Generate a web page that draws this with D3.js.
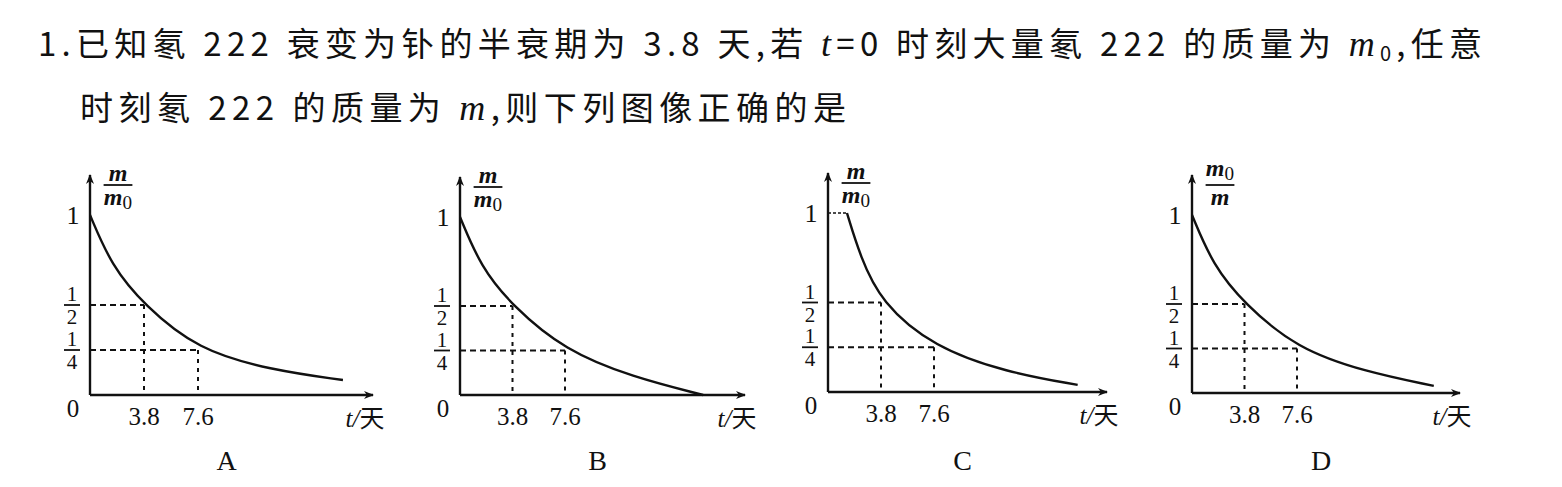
<!DOCTYPE html>
<html><head><meta charset="utf-8">
<script src="https://cdn.jsdelivr.net/npm/d3@7.9.0/dist/d3.min.js"></script>
<style>
body{margin:0;background:#fff;}
svg text{font-family:"Liberation Serif","DejaVu Serif",serif;fill:#111;}
.cjk{font-family:"Noto Sans CJK SC",sans-serif;}
</style></head>
<body><svg id="c" width="1562" height="487"></svg>
<script>
const question = ['1.已知氡 222 衰变为钋的半衰期为 3.8 天,若 ', 't', '=0 时刻大量氡 222 的质量为 ', 'm', '0', ',任意'];
const question2 = '时刻氡 222 的质量为 ';
const question2b = ',则下列图像正确的是';

const panelNames = ['A', 'B', 'C', 'D'];
const yLabels = [['m', 'm0'], ['m', 'm0'], ['m', 'm0'], ['m0', 'm']];
const xTicks = [3.8, 7.6];
const yTicks = [1, 0.5, 0.25];
// curve points: [t (days), value]
const curveA = [[0, 1], [1.5, 0.72], [3.8, 0.5], [7.6, 0.25], [12.7, 0.14], [17.8, 0.083]];
const curveB = [[0, 1], [1.5, 0.72], [3.8, 0.5], [7.6, 0.25], [12.5, 0.1], [17.6, 0]];
const curveC = [[1.36, 1], [2.3, 0.76], [3.8, 0.5], [7.6, 0.25], [12.8, 0.11], [17.9, 0.04]];
const curveD = [[0, 1], [1.5, 0.72], [3.8, 0.5], [7.6, 0.25], [12.5, 0.12], [17.5, 0.04]];
const curves = [curveA, curveB, curveC, curveD];

const layout = [
  {ox: 90, oy: 395, x76: 198, y1: 215, xEnd: 373},
  {ox: 460, oy: 395, x76: 565, y1: 217, xEnd: 745},
  {ox: 828, oy: 392, x76: 934, y1: 213, xEnd: 1107},
  {ox: 1192, oy: 393, x76: 1297, y1: 215, xEnd: 1460},
];

const svg = d3.select('#c');

// question text
const t1 = svg.append('text').attr('class', 'cjk').attr('x', 38).attr('y', 56).style('font-size', '33px')
  .attr('textLength', 1444).attr('lengthAdjust', 'spacing');
t1.append('tspan').text(question[0]);
t1.append('tspan').text(question[1]).style('font-style', 'italic').style('font-family', 'Liberation Serif').style('font-size', '36px');
t1.append('tspan').text(question[2]);
t1.append('tspan').text(question[3]).style('font-style', 'italic').style('font-family', 'Liberation Serif').style('font-size', '36px');
t1.append('tspan').text(question[4]).attr('dy', 5).style('font-size', '20px');
t1.append('tspan').text(question[5]).attr('dy', -5);
const t2 = svg.append('text').attr('class', 'cjk').attr('x', 80).attr('y', 120).style('font-size', '33px')
  .attr('textLength', 766).attr('lengthAdjust', 'spacing');
t2.append('tspan').text(question2);
t2.append('tspan').text('m').style('font-style', 'italic').style('font-family', 'Liberation Serif').style('font-size', '36px');
t2.append('tspan').text(question2b);

svg.append('defs').append('marker').attr('id', 'arr').attr('viewBox', '0 0 10 10')
  .attr('refX', 9).attr('refY', 5).attr('markerWidth', 10).attr('markerHeight', 10)
  .attr('markerUnits', 'userSpaceOnUse').attr('orient', 'auto')
  .append('path').attr('d', 'M0,1 L10,5 L0,9 L3,5 Z').attr('fill', '#111');

function frac(g, x, y, top, bot, size) {
  const addTerm = (s, yy) => {
    const t = g.append('text').attr('x', x).attr('y', yy).attr('text-anchor', 'middle')
      .style('font-size', size + 'px').style('font-weight', 'bold');
    t.append('tspan').text('m').style('font-style', 'italic');
    if (s === 'm0') {
      t.append('tspan').text('0').attr('dy', 4).style('font-size', (size * 0.8) + 'px').style('font-weight', 'normal');
    }
  };
  addTerm(top, top === 'm0' ? y - 9 : y - 4);
  g.append('line').attr('x1', x - size * 0.6).attr('x2', x + size * 0.6)
    .attr('y1', y).attr('y2', y).attr('stroke', '#111').attr('stroke-width', 1.8);
  addTerm(bot, y + size * 0.85);
}

layout.forEach((L, i) => {
  const g = svg.append('g');
  const x = d3.scaleLinear().domain([0, 7.6]).range([L.ox, L.x76]);
  const y = d3.scaleLinear().domain([0, 1]).range([L.oy, L.y1]);

  // axes
  g.append('line').attr('x1', L.ox).attr('y1', L.oy).attr('x2', L.xEnd).attr('y2', L.oy)
    .attr('stroke', '#111').attr('stroke-width', 2.4).attr('marker-end', 'url(#arr)');
  g.append('line').attr('x1', L.ox).attr('y1', L.oy).attr('x2', L.ox).attr('y2', L.y1 - 40)
    .attr('stroke', '#111').attr('stroke-width', 2.4).attr('marker-end', 'url(#arr)');

  // guide dashes
  [[3.8, 0.5], [7.6, 0.25]].forEach(([tv, vv]) => {
    g.append('line').attr('x1', L.ox).attr('x2', x(tv)).attr('y1', y(vv)).attr('y2', y(vv))
      .attr('stroke', '#111').attr('stroke-width', 1.8).attr('stroke-dasharray', '6,4');
    g.append('line').attr('x1', x(tv)).attr('x2', x(tv)).attr('y1', y(vv)).attr('y2', L.oy)
      .attr('stroke', '#111').attr('stroke-width', 2).attr('stroke-dasharray', '4,5');
  });
  const c = curves[i];
  if (c[0][0] > 0) {
    g.append('line').attr('x1', L.ox).attr('x2', x(c[0][0])).attr('y1', y(1)).attr('y2', y(1))
      .attr('stroke', '#111').attr('stroke-width', 1.5).attr('stroke-dasharray', '3,2');
  }

  // curve
  g.append('path').datum(c)
    .attr('d', d3.line().x(d => x(d[0])).y(d => y(d[1])).curve(d3.curveBasis))
    .attr('fill', 'none').attr('stroke', '#111').attr('stroke-width', 2.4);

  // y tick labels
  g.append('text').attr('x', L.ox - 17).attr('y', y(1) + 9).attr('text-anchor', 'middle').style('font-size', '26px').text('1');
  yTicks.slice(1).forEach(v => {
    const cx = L.ox - 18, cy = y(v);
    g.append('text').attr('x', cx).attr('y', cy - 4).attr('text-anchor', 'middle').style('font-size', '21px').text('1');
    g.append('line').attr('x1', cx - 8).attr('x2', cx + 8).attr('y1', cy).attr('y2', cy).attr('stroke', '#111').attr('stroke-width', 1.8);
    g.append('text').attr('x', cx).attr('y', cy + 19).attr('text-anchor', 'middle').style('font-size', '21px').text(v === 0.5 ? '2' : '4');
  });
  g.append('text').attr('x', L.ox - 17).attr('y', L.oy + 22).attr('text-anchor', 'middle').style('font-size', '25px').text('0');
  xTicks.forEach(v => g.append('text').attr('x', x(v)).attr('y', L.oy + 30).attr('text-anchor', 'middle').style('font-size', '25px').text(v.toFixed(1)));

  // axis titles
  frac(g, L.ox + 28, L.y1 - 30, yLabels[i][0], yLabels[i][1], 24);
  const xt = g.append('text').attr('x', L.xEnd - 8).attr('y', L.oy + 32).attr('text-anchor', 'middle').style('font-size', '25px');
  xt.append('tspan').text('t/').style('font-style', 'italic');
  xt.append('tspan').text('天').style('font-family', 'Noto Sans CJK SC');

  g.append('text').attr('x', (L.ox + L.xEnd) / 2 - 5).attr('y', 470).attr('text-anchor', 'middle')
    .style('font-size', '28px').text(panelNames[i]);
});
</script></body></html>
